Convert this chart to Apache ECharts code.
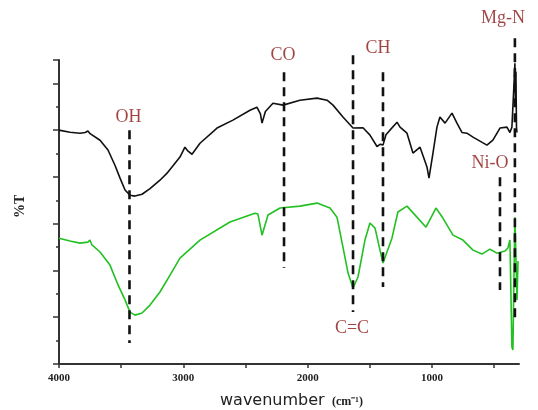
<!DOCTYPE html>
<html>
<head>
<meta charset="utf-8">
<script src="https://cdn.jsdelivr.net/npm/echarts@6/dist/echarts.min.js"></script>
<style>
  html, body { margin: 0; padding: 0; background: #fff; }
  #ftirChart { width: 538px; height: 410px; }
</style>
</head>
<body>
<div id="ftirChart"></div>
<script>
// upper spectrum (black), [wavenumber, %T in axis units]
var blackSpectrum = [
  [4000, 10.0], [3912, 9.91], [3831, 9.87], [3790, 9.9], [3767, 9.96], [3750, 9.85], [3735, 9.83],
  [3670, 9.57], [3606, 9.15], [3550, 8.5], [3509, 7.95], [3469, 7.44], [3429, 7.22], [3389, 7.18],
  [3332, 7.26], [3268, 7.5], [3188, 7.86], [3131, 8.16], [3027, 8.85], [2987, 9.27], [2962, 9.1],
  [2930, 8.97], [2866, 9.44], [2729, 10.09], [2601, 10.43], [2464, 10.85], [2408, 10.98], [2380, 10.7],
  [2367, 10.3], [2340, 10.8], [2327, 10.77], [2279, 11.15], [2198, 11.07], [2062, 11.28], [1925, 11.37],
  [1844, 11.28], [1796, 11.07], [1716, 10.56], [1635, 10.09], [1555, 10.1], [1500, 9.8], [1442, 9.3],
  [1415, 9.4], [1394, 9.36], [1370, 9.8], [1338, 10.0], [1281, 10.34], [1257, 10.13], [1201, 9.87],
  [1153, 9.02], [1096, 9.27], [1040, 8.42], [1024, 7.95], [992, 9.02], [960, 10.13], [936, 10.56],
  [895, 10.3], [839, 10.73], [799, 10.3], [759, 9.9], [719, 9.87], [670, 9.7], [558, 9.36], [510, 9.57],
  [453, 10.09], [397, 10.13], [373, 9.9], [357, 10.13], [340, 12.0], [333, 12.86], [328, 11.0],
  [325, 12.5], [320, 10.1], [316, 9.9]
]

// lower spectrum (green)
var greenSpectrum = [
  [4000, 5.38], [3912, 5.26], [3831, 5.17], [3767, 5.21], [3751, 5.3], [3735, 5.09], [3670, 4.79],
  [3590, 4.23], [3525, 3.38], [3469, 2.74], [3429, 2.22], [3389, 2.09], [3332, 2.18], [3268, 2.52],
  [3188, 3.08], [3107, 3.8], [3027, 4.53], [2866, 5.3], [2625, 6.07], [2424, 6.45], [2400, 6.41],
  [2367, 5.51], [2319, 6.37], [2222, 6.67], [2062, 6.75], [1925, 6.88], [1820, 6.67], [1764, 6.28],
  [1716, 5.0], [1675, 3.89], [1635, 3.25], [1595, 3.72], [1539, 5.3], [1499, 6.03], [1458, 5.81],
  [1418, 4.87], [1394, 4.32], [1362, 4.79], [1322, 5.38], [1274, 6.5], [1201, 6.75], [1121, 6.28],
  [1048, 5.85], [968, 6.67], [912, 6.24], [831, 5.51], [751, 5.3], [670, 4.87], [598, 4.7], [534, 4.91],
  [477, 4.74], [413, 4.83], [389, 4.96], [373, 5.3], [357, 0.73], [349, 0.6], [333, 6.28], [316, 2.74],
  [308, 4.4]
]

// band assignments: dashed line from markTop to markBottom, label at labelPos
var bandNames = ['OH', 'CO', 'C=C', 'CH', 'Ni-O', 'Mg-N']
var bandWn = [3433, 2190, 1635, 1394, 453, 333]
var markTop = [10.0, 12.48, 13.2, 12.48, 7.99, 13.93]
var markBottom = [0.9, 4.1, 2.22, 3.29, 3.16, 2.0]
var labelPos = [[3441, 10.56], [2198, 13.2], [1643, 1.54], [1434, 13.5], [533, 8.59], [429, 14.79]]

var xTickLabels = ['4000', '3000', '2000', '1000']

var chart = echarts.init(document.getElementById('ftirChart'))

var dashSeries = bandNames.map(function(name, i) {
  return {
    name: name,
    type: 'line',
    data: [[bandWn[i], markTop[i]], [bandWn[i], markBottom[i]]],
    symbol: 'none',
    clip: false,
    silent: true,
    z: 5,
    lineStyle: { color: '#111', width: 2.6, type: [9, 6] }
  }
})

chart.setOption({
  backgroundColor: '#fff',
  animation: false,
  grid: { left: 59, right: 19, top: 60, bottom: 46 },
  xAxis: [{
    type: 'value',
    inverse: true,
    min: 300,
    max: 4000,
    minInterval: 500,
    maxInterval: 500,
    splitLine: { show: false },
    axisLine: { onZero: false, lineStyle: { color: '#333', width: 2 } },
    axisTick: { length: 4, lineStyle: { color: '#333', width: 1.5 } },
    axisLabel: {
      showMinLabel: false,
      margin: 9,
      color: '#222',
      fontFamily: 'Liberation Serif',
      fontSize: 11,
      fontWeight: 'bold',
      formatter: function(v) {
        var s = String(v)
        return xTickLabels.indexOf(s) >= 0 ? s : ''
      }
    }
  }],
  yAxis: [{
    type: 'value',
    min: 0,
    max: 13,
    interval: 1,
    splitLine: { show: false },
    axisLine: { onZero: false, lineStyle: { color: '#333', width: 2 } },
    axisTick: { length: 3, lineStyle: { color: '#333', width: 1.5 } },
    axisLabel: { show: false }
  }, {
    type: 'value',
    position: 'left',
    min: 0,
    max: 13,
    interval: 2,
    splitLine: { show: false },
    axisLine: { show: false },
    axisTick: { length: 6, lineStyle: { color: '#333', width: 1.5 } },
    axisLabel: { show: false }
  }],
  graphic: [{
    type: 'text',
    left: 220,
    top: 393,
    style: { text: 'wavenumber', fill: '#222', font: '16px "DejaVu Sans"' }
  }, {
    type: 'text',
    left: 332,
    top: 396,
    style: { text: '(cm\u207B\u00B9)', fill: '#222', font: 'bold 12px "Liberation Serif"' }
  }, {
    type: 'text',
    x: 13,
    y: 218,
    rotation: Math.PI / 2,
    style: { text: '%T', fill: '#222', font: 'bold 14px "Liberation Serif"' }
  }],
  series: [{
    name: 'upper',
    type: 'line',
    data: blackSpectrum,
    symbol: 'none',
    clip: false,
    z: 3,
    lineStyle: { color: '#111', width: 1.6 }
  }, {
    name: 'lower',
    type: 'line',
    data: greenSpectrum,
    symbol: 'none',
    clip: false,
    z: 3,
    lineStyle: { color: '#22c022', width: 1.6 }
  }].concat(dashSeries).concat([{
    name: 'labels',
    type: 'scatter',
    symbolSize: 0,
    clip: false,
    silent: true,
    z: 6,
    data: labelPos.map(function(p, i) { return { value: p, name: bandNames[i] } }),
    label: {
      show: true,
      position: 'inside',
      formatter: '{b}',
      color: '#8b1515',
      fontFamily: 'Liberation Serif',
      fontSize: 18
    }
  }])
})
</script>
</body>
</html>
